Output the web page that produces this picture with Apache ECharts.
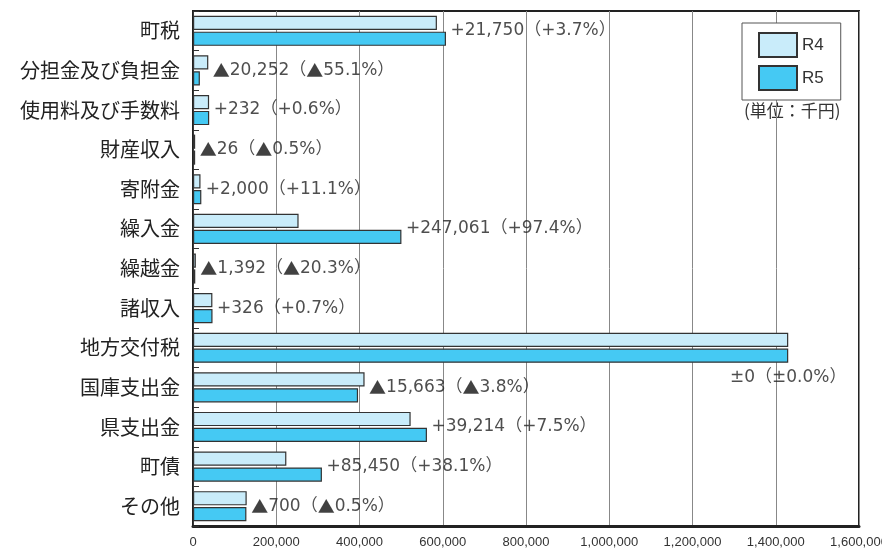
<!DOCTYPE html>
<html><head><meta charset="utf-8">
<script src="https://cdn.jsdelivr.net/npm/echarts@6/dist/echarts.min.js"></script>
<style>html,body{margin:0;padding:0;background:#fff}#c{width:882px;height:553px}</style>
</head><body><div id="c"></div>
<script>
const categories = ['町税','分担金及び負担金','使用料及び手数料','財産収入','寄附金','繰入金','繰越金','諸収入','地方交付税','国庫支出金','県支出金','町債','その他'];
const r4 = [586000, 36755, 38667, 5200, 18018, 253656, 6857, 46571, 1430000, 412184, 522853, 224278, 129000];
const r5 = [607750, 16503, 38899, 5174, 20018, 500717, 5465, 46897, 1430000, 396521, 562067, 309728, 128300];
const diffLabels = ['+21,750（+3.7%）','▲20,252（▲55.1%）','+232（+0.6%）','▲26（▲0.5%）','+2,000（+11.1%）','+247,061（+97.4%）','▲1,392（▲20.3%）','+326（+0.7%）','±0（±0.0%）','▲15,663（▲3.8%）','+39,214（+7.5%）','+85,450（+38.1%）','▲700（▲0.5%）'];
const xTicks = {min:0, max:1600000, interval:200000};
const unitText = '(単位：千円)';

const FONT = '"Noto Sans CJK JP", "Noto Sans", sans-serif';
const LBLFONT = '"DejaVu Sans", "Noto Sans CJK JP", sans-serif';
const NUMFONT = '"Liberation Sans Narrow", "Liberation Sans", sans-serif';
const chart = echarts.init(document.getElementById('c'));
const labelData = categories.map((c,i)=>{
  const item = {value:[Math.max(r4[i], r5[i]), c], name: diffLabels[i]};
  if (diffLabels[i].startsWith('±')) {
    item.label = {position:'bottom', distance:21};
  }
  return item;
});
chart.setOption({
  animation:false,
  grid:{left:193, right:23, top:11, bottom:27, show:true, borderColor:'#222', borderWidth:2,
        backgroundColor:'transparent', containLabel:false, outerBoundsMode:'none'},
  legend:{
    data:['R4','R5'], orient:'vertical', left:742, top:23,
    padding:[9,17,9,16], itemGap:7, itemWidth:38, itemHeight:24,
    backgroundColor:'#fff', borderColor:'#555', borderWidth:1, borderRadius:0,
    textStyle:{fontSize:17, color:'#333', fontFamily:NUMFONT},
    icon:'rect'
  },
  graphic:[{type:'text', left:744, top:102, style:{text:unitText, fill:'#333', font:'17px '+FONT}}],
  xAxis:{
    type:'value', min:xTicks.min, max:xTicks.max, interval:xTicks.interval,
    axisLine:{show:true, lineStyle:{color:'#222', width:3}},
    axisTick:{show:false},
    splitLine:{show:true, lineStyle:{color:'#888', width:1}},
    axisLabel:{color:'#333', fontSize:13, margin:10, fontFamily:NUMFONT,
      formatter:v=>v.toLocaleString('en-US')}
  },
  yAxis:{
    type:'category', data:categories, inverse:true,
    axisLine:{show:true, lineStyle:{color:'#222', width:1.5}},
    axisTick:{show:true, inside:true, length:6, lineStyle:{color:'#333'}},
    axisLabel:{color:'#222', fontSize:20, margin:13, fontFamily:FONT}
  },
  series:[
    {name:'R4', type:'bar', data:r4, barGap:'12%', barCategoryGap:'24%',
      itemStyle:{color:'#c9ecfa', borderColor:'#333', borderWidth:1.2}},
    {name:'R5', type:'bar', data:r5,
      itemStyle:{color:'#45c9f3', borderColor:'#333', borderWidth:1.2}},
    {name:'diff', type:'scatter', data:labelData, symbolSize:1, itemStyle:{color:'transparent'},
      label:{show:true, position:'right', distance:4,
        formatter:p=>p.name.replace(/▲/g, '{t|▲}'),
        color:'#222', fontSize:17, fontFamily:LBLFONT,
        rich:{t:{fontFamily:FONT, fontSize:17, color:'#111'}}},
      z:5}
  ]
});
</script></body></html>
